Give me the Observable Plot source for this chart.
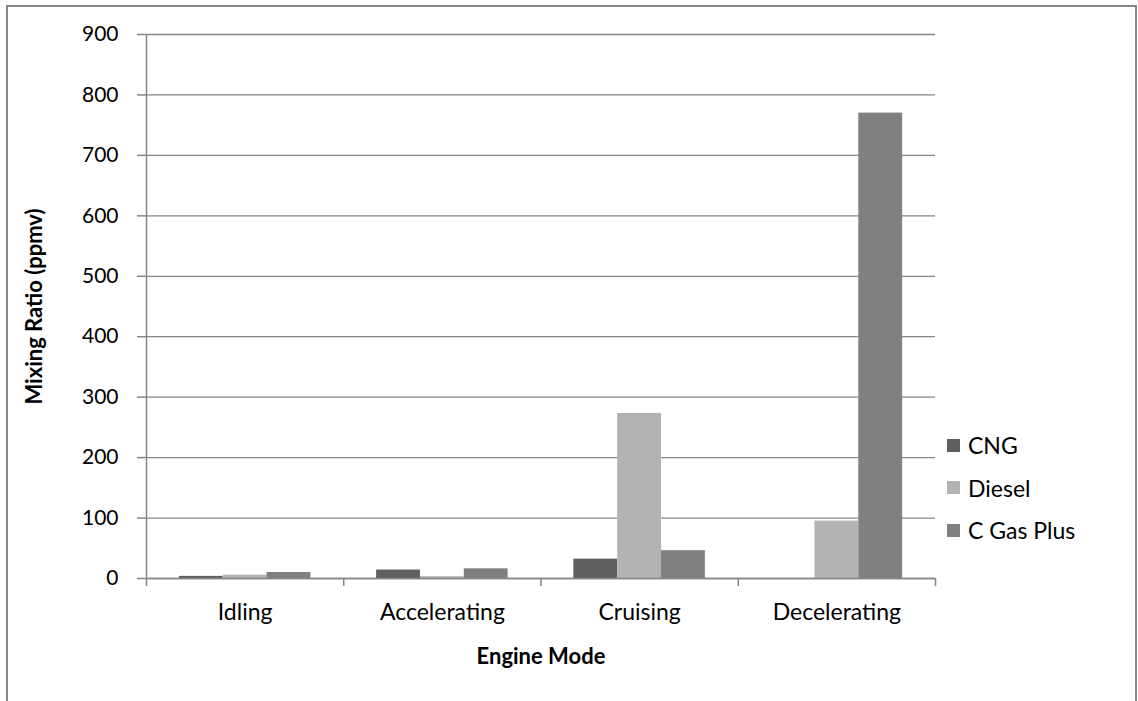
<!DOCTYPE html>
<html>
<head>
<meta charset="utf-8">
<script src="https://cdn.jsdelivr.net/npm/d3@7"></script>
<script src="https://cdn.jsdelivr.net/npm/@observablehq/plot@0.6"></script>
<style>
  html, body { margin: 0; padding: 0; background: #fff; }
  #wrap { position: relative; width: 1138px; height: 701px; overflow: hidden; font-family: Lato, "Open Sans", sans-serif; }
  #frame { position: absolute; left: 6px; top: 5px; width: 1131px; height: 740px; border: 2px solid #868686; box-sizing: border-box; }
  #chart { position: absolute; left: 0; top: 0; }
  #legend { position: absolute; left: 947px; top: 424px; }
  .item { display: flex; align-items: center; height: 42.5px; font-size: 23px; color: #000; }
  .sw { width: 13px; height: 13px; margin-right: 8px; }
</style>
</head>
<body>
<div id="wrap">
  <div id="frame"></div>
  <div id="chart"></div>
  <div id="legend"></div>
</div>
<script>
const modes = ["Idling", "Accelerating", "Cruising", "Decelerating"];
const fuels = ["CNG", "Diesel", "C Gas Plus"];
const cng = [3.5, 14, 32, 0];
const diesel = [5.5, 3, 273, 95];
const cgasPlus = [10, 16, 46, 770];
const yTicks = [0, 100, 200, 300, 400, 500, 600, 700, 800, 900];
const colors = ["#5f5f5f", "#b3b3b3", "#808080"];
const xTitle = "Engine Mode";
const yTitle = "Mixing Ratio (ppmv)";

const series = [cng, diesel, cgasPlus];
const data = [];
modes.forEach((m, mi) => fuels.forEach((f, fi) => data.push({mode: m, mi, fuel: f, fi, value: series[fi][mi]})));

// Excel-style layout: gap width 150% => each category holds 3 bars + 1.5 bar widths of gap
const slots = fuels.length + 1.5;
const grey = "#868686";

const chart = Plot.plot({
  width: 1138,
  height: 701,
  marginLeft: 146,
  marginRight: 203,
  marginTop: 34,
  marginBottom: 123,
  style: {fontFamily: "Lato, 'Open Sans', sans-serif", fontSize: "21px", color: "#000", background: "transparent", overflow: "visible"},
  x: {domain: [0, modes.length]},
  y: {domain: [0, 900]},
  color: {domain: fuels, range: colors},
  marks: [
    Plot.gridY({ticks: yTicks, stroke: grey, strokeOpacity: 1, strokeWidth: 1.3}),
    Plot.rect(data, {
      x1: d => d.mi + (0.75 + d.fi) / slots,
      x2: d => d.mi + (1.75 + d.fi) / slots,
      y1: d => 0,
      y2: "value",
      fill: "fuel"
    }),
    Plot.ruleY([0], {stroke: grey, strokeWidth: 1.5}),
    Plot.ruleX([0], {stroke: grey, strokeWidth: 1.5}),
    Plot.axisY({ticks: yTicks, tickSize: 9, tickPadding: 19, stroke: grey, strokeWidth: 1.5, fontSize: 21, label: null}),
    Plot.axisX({ticks: d3.range(modes.length + 1), tickSize: 8, stroke: grey, strokeWidth: 1.5, tickFormat: () => "", label: null}),
    Plot.axisX({ticks: modes.map((m, i) => i + 0.5), tickSize: 0, tickPadding: 25, fontSize: 23, tickFormat: t => modes[Math.floor(t)], label: null}),
    Plot.text([xTitle], {text: d => d, frameAnchor: "bottom", lineAnchor: "middle", textAnchor: "middle", dy: 78, fontWeight: "bold", fontSize: 22}),
    Plot.text([yTitle], {text: d => d, frameAnchor: "left", lineAnchor: "middle", textAnchor: "middle", dx: -112, rotate: -90, fontWeight: "bold", fontSize: 22})
  ]
});
document.getElementById("chart").appendChild(chart);

const colorScale = chart.scale("color");
const legend = document.getElementById("legend");
fuels.forEach((f, i) => {
  const item = document.createElement("div");
  item.className = "item";
  const sw = document.createElement("span");
  sw.className = "sw";
  sw.style.background = colorScale.range[i];
  const label = document.createElement("span");
  label.textContent = f;
  item.appendChild(sw);
  item.appendChild(label);
  legend.appendChild(item);
});
</script>
</body>
</html>
